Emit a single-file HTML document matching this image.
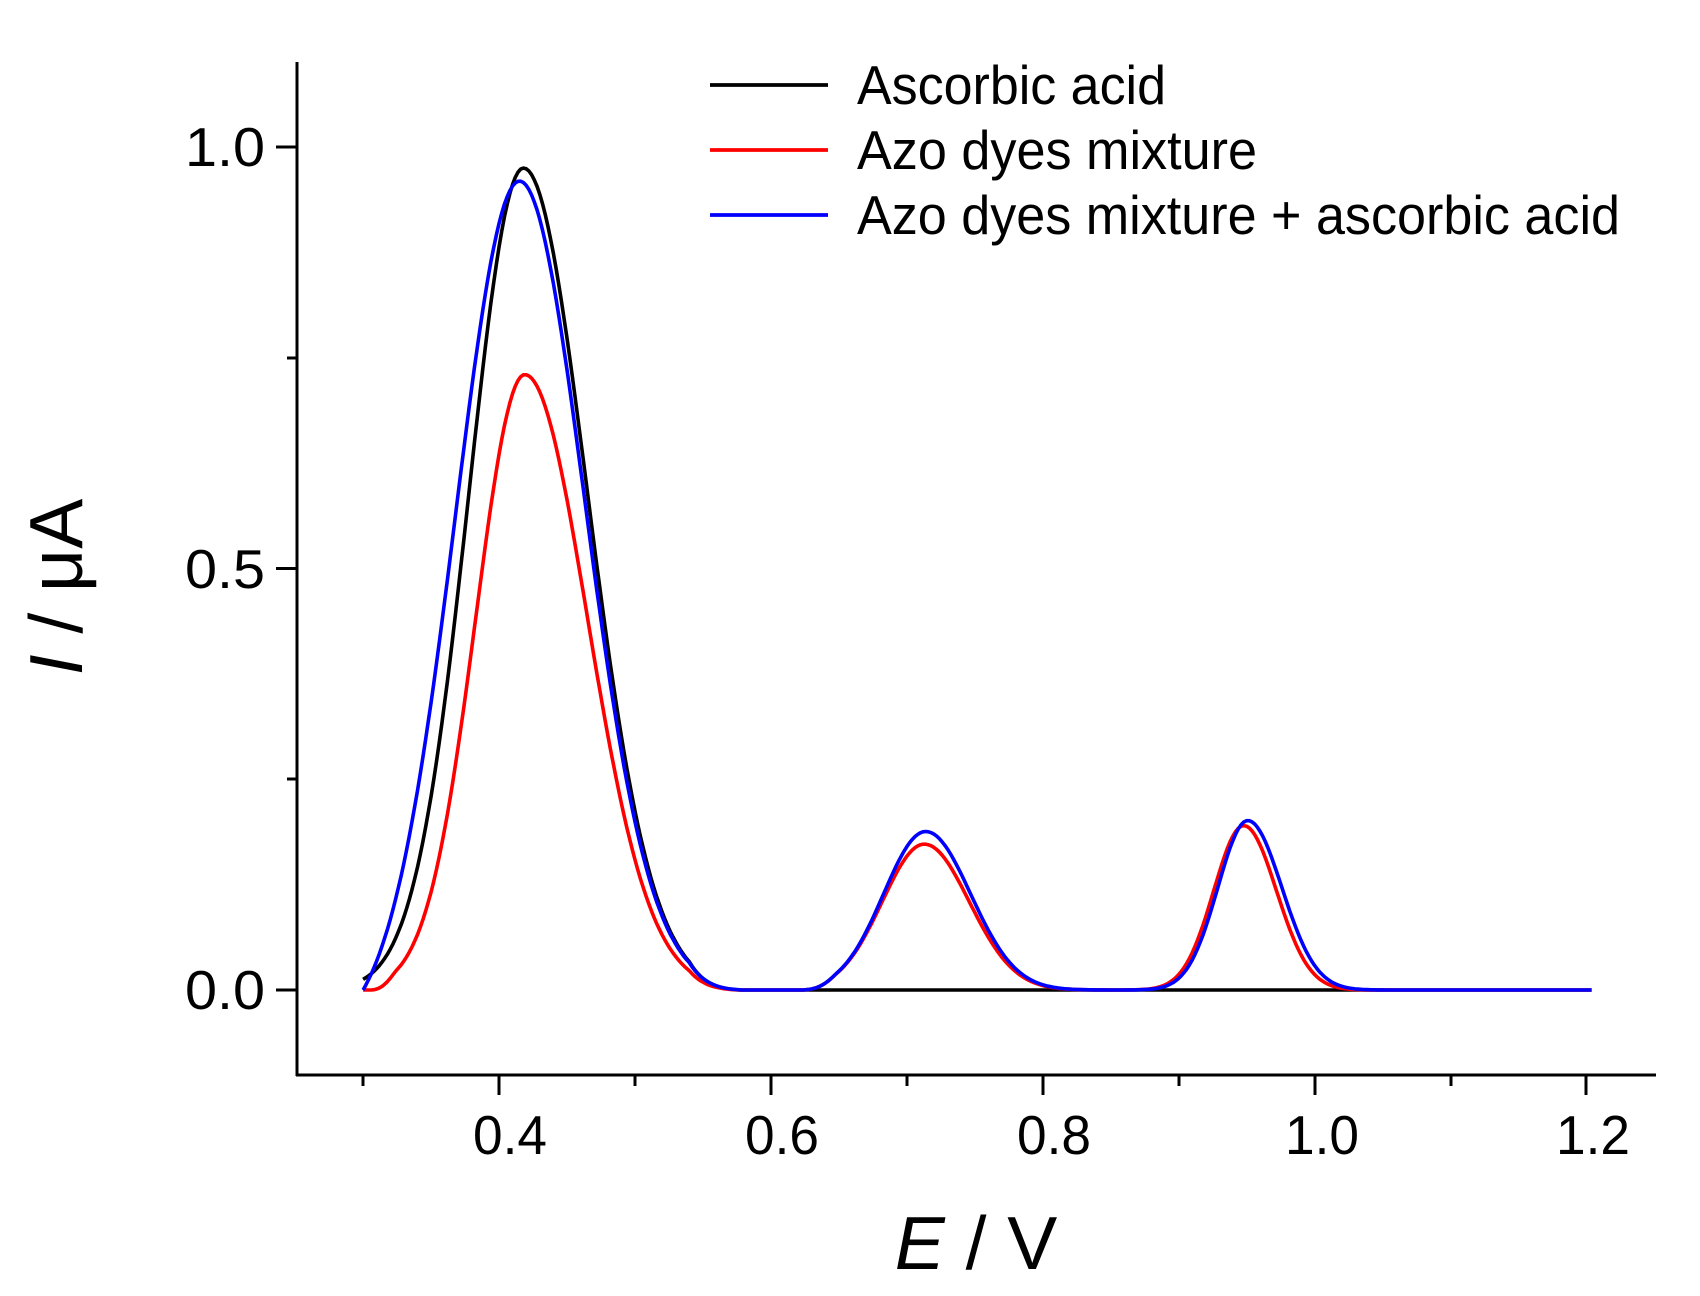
<!DOCTYPE html>
<html><head><meta charset="utf-8"><style>html,body{margin:0;padding:0;background:#fff}</style></head>
<body>
<svg id="s" width="1700" height="1291" viewBox="0 0 1700 1291" xmlns="http://www.w3.org/2000/svg" font-family="Liberation Sans, Arial, sans-serif">
<rect width="1700" height="1291" fill="#fff"/>
<g stroke="#000" stroke-width="3" fill="none">
<line x1="297" y1="62" x2="297" y2="1076"/>
<line x1="296" y1="1075" x2="1656" y2="1075"/>
<line x1="276" y1="990" x2="297" y2="990"/>
<line x1="276" y1="568.5" x2="297" y2="568.5"/>
<line x1="276" y1="147" x2="297" y2="147"/>
<line x1="287" y1="779" x2="297" y2="779"/>
<line x1="287" y1="358" x2="297" y2="358"/>
<line x1="363" y1="1075" x2="363" y2="1086"/>
<line x1="499" y1="1075" x2="499" y2="1095"/>
<line x1="635" y1="1075" x2="635" y2="1086"/>
<line x1="771" y1="1075" x2="771" y2="1095"/>
<line x1="907" y1="1075" x2="907" y2="1086"/>
<line x1="1043" y1="1075" x2="1043" y2="1095"/>
<line x1="1179" y1="1075" x2="1179" y2="1086"/>
<line x1="1315" y1="1075" x2="1315" y2="1095"/>
<line x1="1451" y1="1075" x2="1451" y2="1086"/>
<line x1="1586" y1="1075" x2="1586" y2="1095"/>
</g>
<g font-size="55" fill="#000" text-anchor="end">
<text x="265" y="1009" textLength="80" lengthAdjust="spacingAndGlyphs">0.0</text>
<text x="265" y="588" textLength="80" lengthAdjust="spacingAndGlyphs">0.5</text>
<text x="265" y="166" textLength="80" lengthAdjust="spacingAndGlyphs">1.0</text>
</g>
<g font-size="55" fill="#000" text-anchor="middle">
<text x="510" y="1154" textLength="74" lengthAdjust="spacingAndGlyphs">0.4</text>
<text x="782" y="1154" textLength="74" lengthAdjust="spacingAndGlyphs">0.6</text>
<text x="1054" y="1154" textLength="74" lengthAdjust="spacingAndGlyphs">0.8</text>
<text x="1322" y="1154" textLength="74" lengthAdjust="spacingAndGlyphs">1.0</text>
<text x="1593" y="1154" textLength="74" lengthAdjust="spacingAndGlyphs">1.2</text>
</g>
<text x="976" y="1269" font-size="75" text-anchor="middle"><tspan font-style="italic">E</tspan> / V</text>
<text transform="translate(82,587) rotate(-90)" font-size="75" text-anchor="middle"><tspan font-style="italic">I</tspan> / μA</text>
<g stroke-width="3.8">
<line x1="710" y1="85" x2="828" y2="85" stroke="#000"/>
<line x1="710" y1="150" x2="828" y2="150" stroke="#f00"/>
<line x1="710" y1="215" x2="828" y2="215" stroke="#00f"/>
</g>
<g font-size="55" fill="#000">
<text x="857" y="104" textLength="309" lengthAdjust="spacingAndGlyphs">Ascorbic acid</text>
<text x="857" y="169" textLength="400" lengthAdjust="spacingAndGlyphs">Azo dyes mixture</text>
<text x="857" y="234" textLength="763" lengthAdjust="spacingAndGlyphs">Azo dyes mixture + ascorbic acid</text>
</g>
<path id="pk" fill="none" stroke="#000" stroke-width="3.6" stroke-linejoin="round"/>
<path id="pr" fill="none" stroke="#f00" stroke-width="3.6" stroke-linejoin="round"/>
<path id="pb" fill="none" stroke="#00f" stroke-width="3.6" stroke-linejoin="round"/>
</svg>
<script>
function X(v){return 499+(v-0.4)*1359;}
function Y(v){return 990-v*843;}
function sg(x,m,h,sl,sr){var s=x<m?sl:sr;return h*Math.exp(-0.5*Math.pow((x-m)/s,2));}
function ss(t){t=Math.max(0,Math.min(1,t));return t*t*(3-2*t);}
function mk(id,f,x0){var d="";for(var x=x0;x<=1.2051;x+=0.002){var v=Math.max(0,f(x));d+=(d?"L":"M")+X(x).toFixed(1)+","+Y(v).toFixed(1);}document.getElementById(id).setAttribute("d",d);}
mk("pk",function(x){var v=sg(x,0.418,0.975,0.040,0.047);if(x>0.54)v*=Math.max(0,(0.578-x)/0.038);return v;},0.30);
mk("pr",function(x){var v=sg(x,0.419,0.73,0.036,0.046);v*=ss((x-0.305)/0.02);if(x>0.54)v*=Math.max(0,(0.578-x)/0.038);
 v+=sg(x,0.713,0.173,0.031,0.033)*ss((x-0.62)/0.03);v+=sg(x,0.948,0.195,0.022,0.024);return v;},0.30);
mk("pb",function(x){var v=sg(x,0.415,0.96,0.046,0.048);v*=1-Math.exp(-(x-0.30)/0.015);if(x>0.54)v*=Math.max(0,(0.58-x)/0.04);
 v+=sg(x,0.714,0.188,0.031,0.033)*ss((x-0.62)/0.03);v+=sg(x,0.951,0.201,0.022,0.025);return v;},0.30);
</script>
</body></html>
